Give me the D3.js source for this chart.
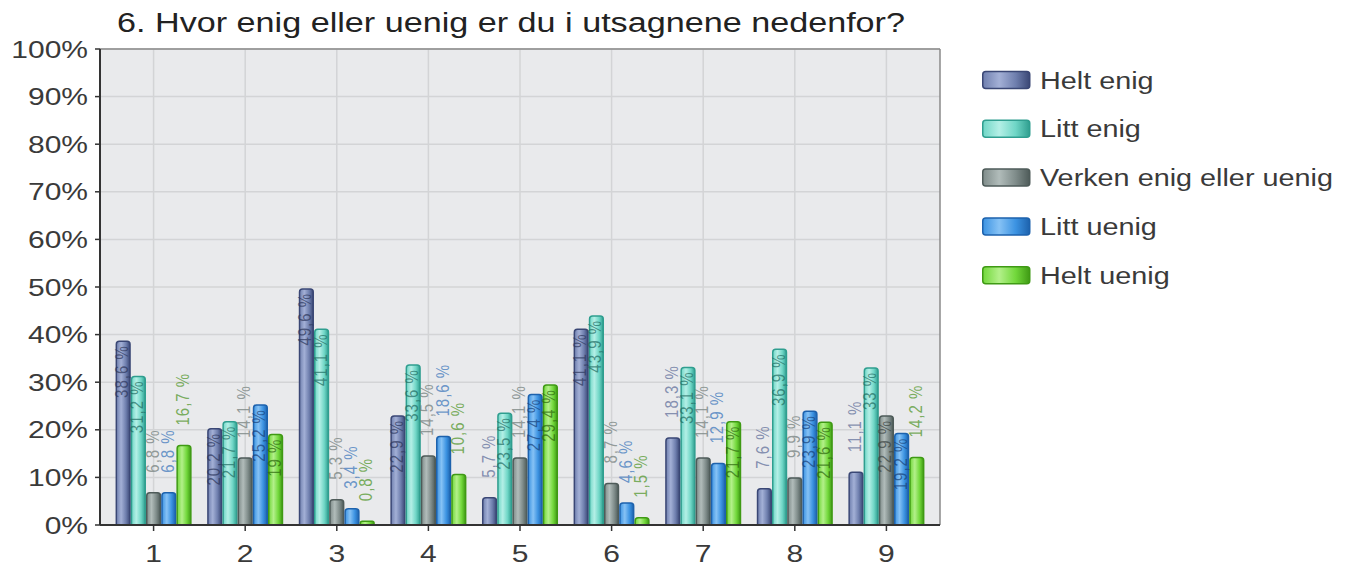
<!DOCTYPE html>
<html><head><meta charset="utf-8">
<script src="https://cdn.jsdelivr.net/npm/d3@7"></script>
<style>body{margin:0;background:#fff;} svg{display:block;font-family:"Liberation Sans",Arial,sans-serif;}</style>
</head><body>
<svg id="c" width="1353" height="577"></svg>
<script>
const title = "6. Hvor enig eller uenig er du i utsagnene nedenfor?";
const categories = ["1","2","3","4","5","6","7","8","9"];
const seriesNames = ["Helt enig","Litt enig","Verken enig eller uenig","Litt uenig","Helt uenig"];
const heltEnig  = [38.6, 20.2, 49.6, 22.9, 5.7, 41.1, 18.3, 7.6, 11.1];
const littEnig  = [31.2, 21.7, 41.1, 33.6, 23.5, 43.9, 33.1, 36.9, 33.0];
const verken    = [6.8, 14.1, 5.3, 14.5, 14.1, 8.7, 14.1, 9.9, 22.9];
const littUenig = [6.8, 25.2, 3.4, 18.6, 27.4, 4.6, 12.9, 23.9, 19.2];
const heltUenig = [16.7, 19.0, 0.8, 10.6, 29.4, 1.5, 21.7, 21.6, 14.2];
const yTicks = [0,10,20,30,40,50,60,70,80,90,100];

const seriesValues = [heltEnig, littEnig, verken, littUenig, heltUenig];
const styles = [
  {fill:"#6f7fae", light:"#a3b0d6", stroke:"#3a4775", inC:"#2b355a", outC:"#6a77a0"},
  {fill:"#6fd6c6", light:"#b4efe6", stroke:"#2f9e8f", inC:"#1d6a60", outC:"#3f9e90"},
  {fill:"#7f8c8a", light:"#b1bcba", stroke:"#4e5b59", inC:"#39423f", outC:"#7a8583"},
  {fill:"#3c93e2", light:"#86c2f5", stroke:"#1d62ad", inC:"#163f78", outC:"#4a7fbf"},
  {fill:"#72d83b", light:"#b3f08a", stroke:"#3f9a14", inC:"#2a640b", outC:"#5b9c38"}
];

const svg = d3.select("#c");
const SX = 1.25;
const M = {left:100, right:940, top:49, bottom:525};

const defs = svg.append("defs");
styles.forEach((s,i)=>{
  const g = defs.append("linearGradient").attr("id","g"+i).attr("x1","0").attr("x2","1").attr("y1","0").attr("y2","0");
  g.append("stop").attr("offset","0%").attr("stop-color",s.fill);
  g.append("stop").attr("offset","35%").attr("stop-color",s.light);
  g.append("stop").attr("offset","70%").attr("stop-color",s.fill);
  g.append("stop").attr("offset","100%").attr("stop-color",s.stroke);
});

const x0 = d3.scaleBand().domain(categories).range([M.left, M.right]).padding(0.17);
const x1 = d3.scaleBand().domain(d3.range(seriesNames.length)).range([0, x0.bandwidth()]);
const y = d3.scaleLinear().domain([0,100]).range([M.bottom, M.top]);

svg.append("rect").attr("x",M.left).attr("y",M.top).attr("width",M.right-M.left).attr("height",M.bottom-M.top).attr("fill","#e9eaec");

svg.append("g").selectAll("line").data(yTicks).join("line")
  .attr("x1",M.left).attr("x2",M.right).attr("y1",d=>y(d)).attr("y2",d=>y(d))
  .attr("stroke","#d3d4d6").attr("stroke-width",1.5);
svg.append("g").selectAll("line").data(categories).join("line")
  .attr("x1",d=>x0(d)+x0.bandwidth()/2).attr("x2",d=>x0(d)+x0.bandwidth()/2)
  .attr("y1",M.top).attr("y2",M.bottom)
  .attr("stroke","#d3d4d6").attr("stroke-width",1.5);

svg.append("line").attr("x1",M.left).attr("x2",M.right).attr("y1",M.top).attr("y2",M.top).attr("stroke","#8a8a8a").attr("stroke-width",1.5);
svg.append("line").attr("x1",M.right).attr("x2",M.right).attr("y1",M.top).attr("y2",M.bottom).attr("stroke","#8a8a8a").attr("stroke-width",1.5);

const fmt = v => (Math.round(v*10)%10===0 ? String(Math.round(v)) : v.toFixed(1).replace(".",",")) + " %";
const groups = svg.append("g").selectAll("g").data(categories).join("g")
  .attr("transform",d=>`translate(${x0(d)},0)`);
groups.each(function(cat,ci){
  const g = d3.select(this);
  seriesValues.forEach((vals,si)=>{
    const v = vals[ci];
    const s = styles[si];
    const bx = x1(si), bw = x1.bandwidth();
    const top = y(v);
    const r = Math.min(3, (y(0)-top)/2);
    g.append("path")
      .attr("d",`M${bx+0.75},${y(0)} V${top+r} Q${bx+0.75},${top} ${bx+0.75+r},${top} H${bx+bw-0.75-r} Q${bx+bw-0.75},${top} ${bx+bw-0.75},${top+r} V${y(0)} Z`)
      .attr("fill",`url(#g${si})`).attr("stroke",s.stroke).attr("stroke-width",1.5);
  });
});
groups.each(function(cat,ci){
  const g = d3.select(this);
  seriesValues.forEach((vals,si)=>{
    const v = vals[ci];
    const s = styles[si];
    const cx = x1(si) + x1.bandwidth()/2;
    const top = y(v);
    const inside = v >= 18.8;
    g.append("text")
      .attr("transform",`translate(${cx+5},${inside ? top+4 : top-20}) scale(1.2,1) rotate(-90)`)
      .attr("text-anchor", inside ? "end" : "start")
      .attr("font-size",15).attr("letter-spacing",1)
      .attr("fill", inside ? s.inC : s.outC)
      .attr("fill-opacity", inside ? 0.7 : 0.8)
      .text(fmt(v));
  });
});

svg.append("line").attr("x1",M.left).attr("x2",M.left).attr("y1",M.top).attr("y2",M.bottom).attr("stroke","#333").attr("stroke-width",2);
svg.append("line").attr("x1",M.left).attr("x2",M.right).attr("y1",M.bottom).attr("y2",M.bottom).attr("stroke","#333").attr("stroke-width",2);

svg.append("g").selectAll("line").data(yTicks).join("line")
  .attr("x1",M.left-5).attr("x2",M.left).attr("y1",d=>y(d)).attr("y2",d=>y(d)).attr("stroke","#333").attr("stroke-width",1.5);
svg.append("g").selectAll("text").data(yTicks).join("text")
  .attr("transform",d=>`translate(${M.left-12},${y(d)+8.5}) scale(${SX},1)`)
  .attr("text-anchor","end").attr("font-size",24).attr("fill","#3a3a3a")
  .text(d=>d+"%");
svg.append("g").selectAll("line").data(categories).join("line")
  .attr("x1",d=>x0(d)+x0.bandwidth()/2).attr("x2",d=>x0(d)+x0.bandwidth()/2)
  .attr("y1",M.bottom).attr("y2",M.bottom+6).attr("stroke","#333").attr("stroke-width",1.5);
svg.append("g").selectAll("text").data(categories).join("text")
  .attr("transform",d=>`translate(${x0(d)+x0.bandwidth()/2},${M.bottom+37}) scale(${SX},1)`)
  .attr("text-anchor","middle").attr("font-size",24).attr("fill","#3a3a3a")
  .text(d=>d);

svg.append("text").attr("x",117).attr("y",32)
  .attr("font-size",27).attr("fill","#222")
  .attr("textLength",788).attr("lengthAdjust","spacingAndGlyphs")
  .text(title);

const leg = svg.append("g").selectAll("g").data(seriesNames).join("g")
  .attr("transform",(d,i)=>`translate(982,${80 + i*48.8})`);
leg.append("rect").attr("x",0.75).attr("y",-8.5).attr("width",47).attr("height",17).attr("rx",3)
  .attr("fill",(d,i)=>`url(#g${i})`).attr("stroke",(d,i)=>styles[i].stroke).attr("stroke-width",1.5);
leg.append("text").attr("transform",`translate(58,8.5) scale(1.2,1)`)
  .attr("font-size",24).attr("fill","#3a3a3a").text(d=>d);
</script>
</body></html>
